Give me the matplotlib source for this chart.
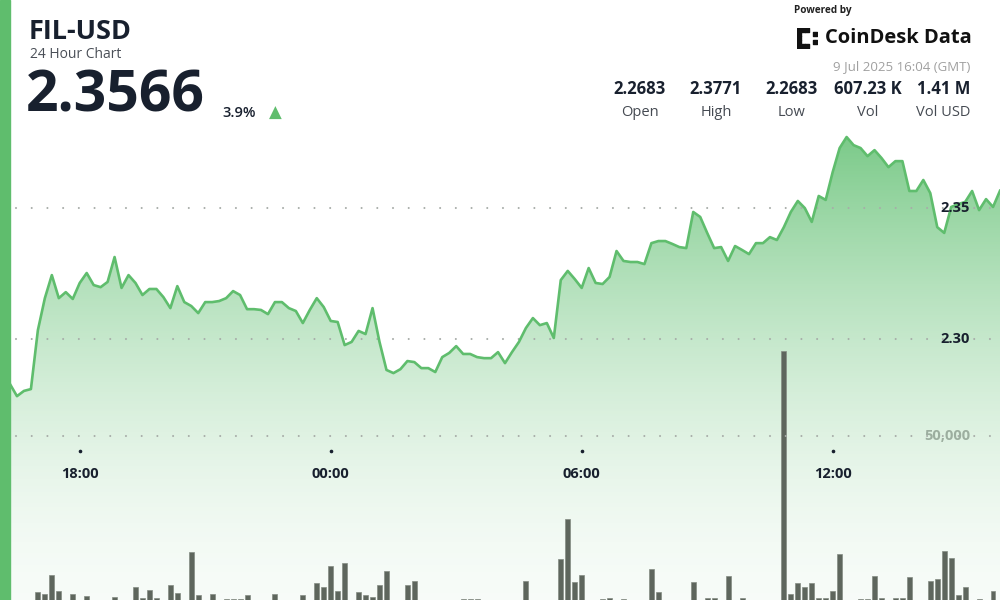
import numpy as np
import pandas as pd
import matplotlib
matplotlib.use('Agg')
import matplotlib.pyplot as plt
import matplotlib.dates as mdates
import matplotlib.transforms as mtransforms
from matplotlib.patches import Rectangle

plt.rcParams['font.family'] = ['Open Sans', 'DejaVu Sans']
plt.rcParams['lines.scale_dashes'] = False

# 10 minute closes, 8 Jul 16:20 -> 9 Jul 16:00 (GMT)
times = pd.date_range('2025-07-08 16:20', periods=143, freq='10min')

prices = [
    2.2828, 2.2782, 2.2802, 2.2809, 2.3034, 2.3156, 2.3244, 2.3156, 2.3179, 2.3153,
    2.3214, 2.3252, 2.3206, 2.3198, 2.3218, 2.3313, 2.3195, 2.3244, 2.3214, 2.3168,
    2.3191, 2.3191, 2.3160, 2.3118, 2.3202, 2.3141, 2.3126, 2.3099, 2.3141, 2.3141,
    2.3145, 2.3156, 2.3183, 2.3168, 2.3114, 2.3114, 2.3111, 2.3095, 2.3141, 2.3141,
    2.3118, 2.3107, 2.3061, 2.3111, 2.3156, 2.3122, 2.3069, 2.3065, 2.2977,
    2.2989, 2.3031, 2.3019, 2.3118, 2.2989, 2.2882, 2.2870, 2.2885, 2.2916, 2.2912,
    2.2889, 2.2889, 2.2874, 2.2931, 2.2947, 2.2973, 2.2943, 2.2943, 2.2931, 2.2927,
    2.2927, 2.2950, 2.2908, 2.2950, 2.2989, 2.3042, 2.3080, 2.3053, 2.3061, 2.3004,
    2.3225, 2.3260, 2.3229, 2.3195, 2.3271, 2.3214, 2.3210, 2.3237, 2.3336, 2.3298,
    2.3294, 2.3294, 2.3286, 2.3366, 2.3374, 2.3374,
    2.3363, 2.3351, 2.3347, 2.3485, 2.3466, 2.3405, 2.3347, 2.3351, 2.3298, 2.3355,
    2.3340, 2.3324, 2.3366, 2.3366, 2.3389, 2.3378, 2.3427, 2.3485, 2.3527, 2.3500,
    2.3447, 2.3546, 2.3531, 2.3637, 2.3729, 2.3771, 2.3740, 2.3729, 2.3698, 2.3721,
    2.3691, 2.3656, 2.3679, 2.3679, 2.3565, 2.3565, 2.3607, 2.3557, 2.3427, 2.3405,
    2.3504, 2.3515, 2.3523, 2.3565, 2.3492, 2.3534, 2.3504, 2.3566,
]

volumes = [
    0, 0, 0, 0, 2530, 1830, 7630, 2840, 0, 1830,
    0, 1220, 0, 0, 0, 915, 0, 0, 4060, 610,
    3050, 700, 0, 4580, 2140, 0, 14730, 1530, 0, 1830,
    0, 400, 400, 400, 1530, 0, 0, 0, 1830, 0,
    0, 0, 1530, 0, 5190, 3970, 10460, 2840, 11190, 0,
    2530, 1530, 820, 4580, 8940, 0, 0, 4580, 5800, 0,
    0, 0, 0, 0, 0, 400, 400, 400, 0, 0,
    0, 0, 0, 0, 5890, 0, 0, 0, 0, 12410,
    24700, 5490, 7530, 0, 0, 300, 700, 0, 400, 0,
    0, 0, 9460, 2350, 0, 0, 0, 0, 5580, 0,
    500, 700, 0, 7320, 0, 700, 0, 0, 0, 0,
    0, 76040, 1740, 5280, 4060, 5090, 700, 520, 2840, 14030,
    0, 0, 300, 300, 7320, 520, 0, 520, 520, 6920,
    0, 0, 5890, 6310, 15040, 12710, 1530, 4060, 0, 300,
    0, 2840, 0,
]

price_grid = [2.35, 2.30]
vol_grid = [50000]

stat_values = ['2.2683', '2.3771', '2.2683', '607.23 K', '1.41 M']
stat_labels = ['Open', 'High', 'Low', 'Vol', 'Vol USD']

GREEN = '#5fbd6d'
NAVY = '#18202e'

fig = plt.figure(figsize=(10, 6), dpi=100)
fig.patch.set_facecolor('white')

ax = fig.add_axes([0.01, 0, 0.99, 1])
ax.axis('off')

# gradient area under the price line
fill = ax.fill_between(times, prices, 2.19, facecolor='none', edgecolor='none')
rows = np.arange(600)
s = np.clip((rows - 135) / 465.0, 0, 1)
alpha = 0.05 + 0.78 * (1 - s) ** 1.6
grad = np.zeros((600, 1, 4))
grad[..., 0] = 0x5f / 255
grad[..., 1] = 0xbf / 255
grad[..., 2] = 0x70 / 255
grad[:, 0, 3] = alpha
im = ax.imshow(grad, extent=[0, 1, 0, 1], transform=ax.transAxes,
               aspect='auto', origin='upper', zorder=1)
im.set_clip_path(fill.get_paths()[0], transform=ax.transData)

ax.plot(times, prices, color=GREEN, lw=1.9, zorder=4)
ax.set_xlim(times[0], times[-1])
ax.set_ylim(2.2004, 2.4294)

# volume on its own scale
axv = ax.twinx()
axv.axis('off')
axv.bar(times, volumes, width=0.0049, color='#5e665d', edgecolor='#848c83',
        linewidth=0.5, zorder=2)
axv.set_ylim(0, 182900)

# dotted grid + labels
dots = (0, (0.01, 11.3))
lab_x = (970 - 10) / 990
for p in price_grid:
    ax.axhline(p, xmin=0.006, color='#a7aca8', lw=1.5, linestyle=dots,
               dash_capstyle='round', zorder=3)
    tr = mtransforms.blended_transform_factory(ax.transAxes, ax.transData)
    ax.text(lab_x, p, f'{p:.2f}', transform=tr, ha='right', va='center',
            fontsize=10.5, fontweight='bold', color=NAVY, zorder=6)
for v in vol_grid:
    axv.axhline(v, xmin=0.006, color='#a7aca8', lw=1.5, linestyle=dots,
                dash_capstyle='round', zorder=3)
    tr = mtransforms.blended_transform_factory(axv.transAxes, axv.transData)
    axv.text(lab_x, v, f'{v:,}', transform=tr, ha='right', va='center',
             fontsize=10.5, fontweight='bold', color='#9cae9f', zorder=6)

# time labels inside the plot
loc = mdates.HourLocator(byhour=[0, 6, 12, 18])
trx = mtransforms.blended_transform_factory(ax.transData, ax.transAxes)
for t in loc.tick_values(times[0], times[-1]):
    if mdates.date2num(times[0]) <= t <= mdates.date2num(times[-1]):
        ax.plot([t], [1 - 451 / 600], marker='o', ms=1.6, color=NAVY,
                transform=trx, zorder=6)
        ax.text(t, 1 - 474 / 600, mdates.num2date(t).strftime('%H:%M'),
                transform=trx, ha='center', va='center', fontsize=10.5,
                fontweight='bold', color=NAVY, zorder=6)

# left accent stripe
fig.add_artist(Rectangle((0, 0), 0.01, 1, transform=fig.transFigure,
                         color=GREEN, zorder=10))

# header
fig.text(0.029, 1 - 32 / 600, 'FIL-USD', fontsize=19.5, fontweight='bold',
         color=NAVY, va='center')
fig.text(0.030, 1 - 55 / 600, '24 Hour Chart', fontsize=10, color='#4a4f57',
         va='center')
fig.text(0.026, 1 - 96 / 600, '2.3566', fontsize=41, fontweight='bold',
         color=NAVY, va='center')
fig.text(0.222, 1 - 113 / 600, '3.9%', fontsize=10.5, fontweight='semibold',
         color=NAVY, va='center')
fig.text(0.275, 1 - 113 / 600, '\u25b2', fontsize=12, color=GREEN,
         va='center', ha='center', family='DejaVu Sans')

fig.text(0.823, 1 - 10 / 600, 'Powered by', fontsize=7.2, fontweight='bold',
         color='#222', va='center', ha='center')
fig.text(0.972, 1 - 38 / 600, 'CoinDesk Data', fontsize=14.5, fontweight='bold',
         color='#111', va='center', ha='right')
icon = fig.add_axes([0.797, 1 - 48 / 600, 0.020, 20 / 600])
icon.axis('off')
ix = [0, 0, 0, 0, 0, 1, 2, 1, 2, 4, 4]
iy = [0, 1, 2, 3, 4, 4, 4, 0, 0, 1, 3]
icon.scatter(ix, iy, marker='s', s=9, color='#111')
icon.set_xlim(-0.6, 4.6)
icon.set_ylim(-0.6, 4.6)

fig.text(0.970, 1 - 67 / 600, '9 Jul 2025 16:04 (GMT)', fontsize=9.5,
         color='#a0a0a0', va='center', ha='right')

stat_x = [0.640, 0.716, 0.792, 0.868, 0.9435]
for x, val, lab in zip(stat_x, stat_values, stat_labels):
    fig.text(x, 1 - 89 / 600, val, fontsize=12, fontweight='bold', color=NAVY,
             ha='center', va='center')
    fig.text(x, 1 - 112 / 600, lab, fontsize=10.5, color='#454a52',
             ha='center', va='center')

fig.savefig('out.png', dpi=100)
